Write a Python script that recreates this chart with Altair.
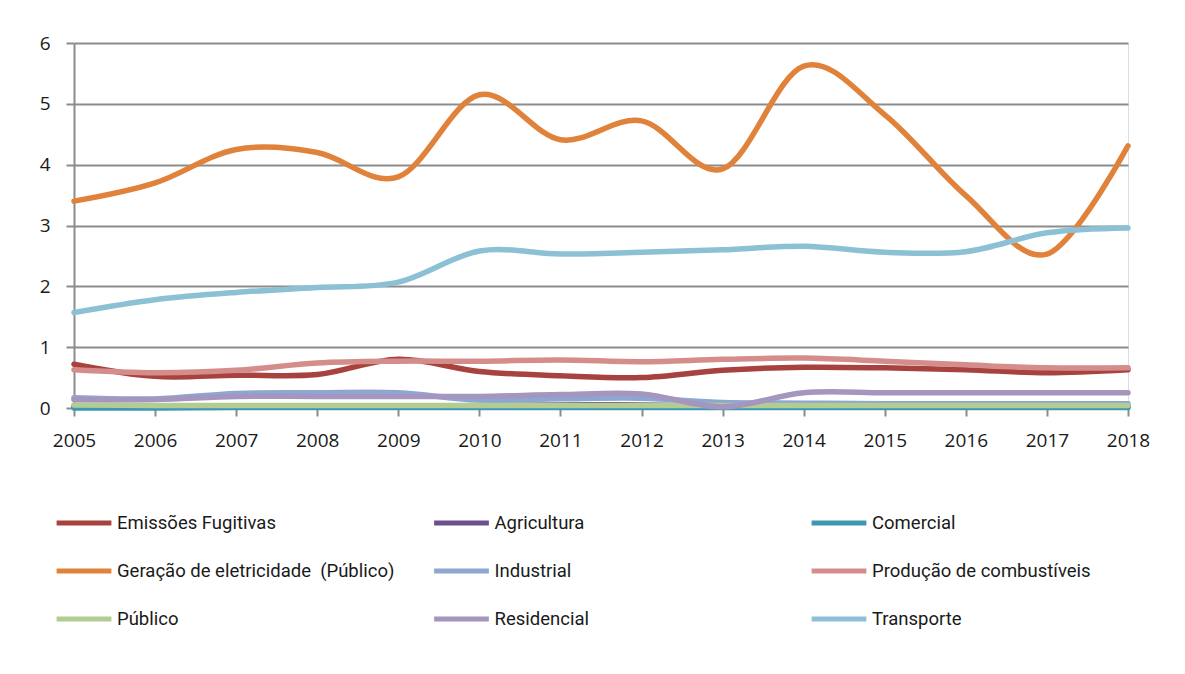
import altair as alt
import pandas as pd

years = list(range(2005, 2019))

series_names = [
    "Emissões Fugitivas",
    "Agricultura",
    "Comercial",
    "Geração de eletricidade\u00a0 (Público)",
    "Industrial",
    "Produção de combustíveis",
    "Público",
    "Residencial",
    "Transporte",
]
series_colors = [
    "#A8423E",
    "#6B4F8F",
    "#3C97B2",
    "#E0823A",
    "#8DA7D0",
    "#D58D8C",
    "#B3CC94",
    "#A496BE",
    "#8CC1D5",
]

emissoes = [0.72, 0.52, 0.54, 0.55, 0.80, 0.60, 0.53, 0.50, 0.62, 0.67, 0.66, 0.63, 0.58, 0.63]
agricultura = [0.03, 0.03, 0.03, 0.03, 0.03, 0.04, 0.05, 0.05, 0.03, 0.03, 0.03, 0.03, 0.03, 0.03]
comercial = [0.0, 0.0, 0.01, 0.01, 0.01, 0.01, 0.01, 0.01, 0.01, 0.01, 0.01, 0.01, 0.01, 0.01]
geracao = [3.40, 3.70, 4.25, 4.20, 3.80, 5.15, 4.41, 4.72, 3.93, 5.62, 4.82, 3.49, 2.53, 4.31]
industrial = [0.17, 0.15, 0.24, 0.25, 0.25, 0.13, 0.15, 0.16, 0.09, 0.08, 0.07, 0.07, 0.07, 0.07]
producao = [0.63, 0.58, 0.62, 0.74, 0.77, 0.77, 0.79, 0.76, 0.80, 0.82, 0.77, 0.71, 0.66, 0.66]
publico = [0.05, 0.04, 0.04, 0.04, 0.04, 0.04, 0.04, 0.04, 0.04, 0.04, 0.04, 0.04, 0.04, 0.04]
residencial = [0.14, 0.14, 0.19, 0.19, 0.19, 0.19, 0.22, 0.23, 0.02, 0.25, 0.25, 0.25, 0.25, 0.25]
transporte = [1.57, 1.78, 1.90, 1.98, 2.07, 2.58, 2.53, 2.56, 2.60, 2.66, 2.56, 2.57, 2.88, 2.96]

values = [emissoes, agricultura, comercial, geracao, industrial, producao, publico, residencial, transporte]

rows = []
for name, vals in zip(series_names, values):
    for y, v in zip(years, vals):
        rows.append({"ano": y, "valor": v, "setor": name})
df = pd.DataFrame(rows)

grid_color = "#8C8C8C"

chart = (
    alt.Chart(df)
    .mark_line(interpolate="cardinal", strokeWidth=5.5, strokeCap="round")
    .encode(
        x=alt.X(
            "ano:Q",
            scale=alt.Scale(domain=[2005, 2018], nice=False, zero=False),
            axis=alt.Axis(
                title=None,
                values=years,
                format="d",
                grid=False,
                domain=True,
                domainColor=grid_color,
                domainWidth=2,
                ticks=True,
                tickColor=grid_color,
                tickWidth=2,
                tickSize=8,
                labelPadding=15,
                labelFont="Open Sans",
                labelFontSize=19,
                labelColor="#1a1a1a",
                labelFlush=False,
            ),
        ),
        y=alt.Y(
            "valor:Q",
            scale=alt.Scale(domain=[0, 6], nice=False),
            axis=alt.Axis(
                title=None,
                values=[0, 1, 2, 3, 4, 5, 6],
                grid=True,
                gridColor=grid_color,
                gridWidth=2,
                domain=True,
                domainColor=grid_color,
                domainWidth=2,
                ticks=True,
                tickColor=grid_color,
                tickWidth=2,
                tickSize=8,
                labelPadding=16,
                labelFont="Open Sans",
                labelFontSize=19,
                labelColor="#1a1a1a",
            ),
        ),
        color=alt.Color(
            "setor:N",
            scale=alt.Scale(domain=series_names, range=series_colors),
            legend=alt.Legend(
                title=None,
                orient="none",
                direction="horizontal",
                legendX=-20,
                legendY=450,
                columns=3,
                gridAlign="all",
                columnPadding=28.5,
                rowPadding=8,
                symbolType="stroke",
                symbolSize=3000,
                symbolStrokeWidth=5,
                labelFont="Roboto",
                labelFontSize=18.5,
                labelColor="#1a1a1a",
                labelOffset=3,
                labelLimit=400,
                padding=0,
            ),
        ),
    )
    .properties(
        width=1054,
        height=365,
        autosize=alt.AutoSizeParams(type="none"),
        padding={"left": 66, "top": 35, "right": 49, "bottom": 250},
    )
    .configure_view(stroke=None)
    .configure(background="white")
)

chart.save("out.html", embed_options={"renderer": "svg", "actions": False})
